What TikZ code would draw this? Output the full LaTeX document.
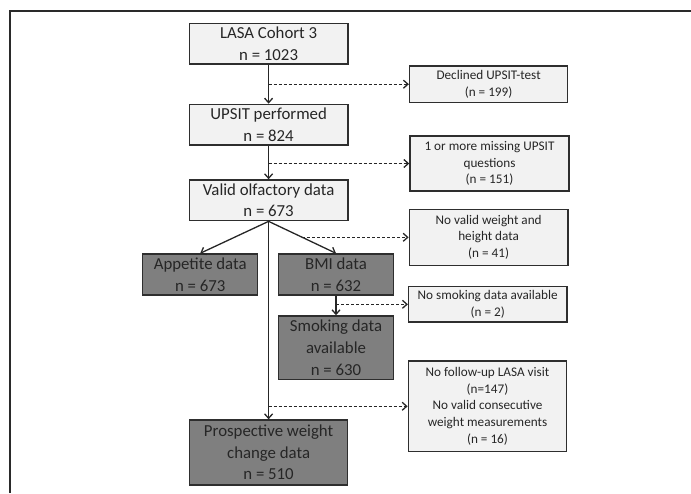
\documentclass[tikz,border=0pt]{standalone}
\usepackage{fontspec}
\setmainfont{Carlito}
\usetikzlibrary{arrows.meta,calc}
\definecolor{boxline}{HTML}{2E2E2E}
\definecolor{lineclr}{HTML}{262626}
\definecolor{frameclr}{HTML}{2A2A2A}
\definecolor{lightfill}{HTML}{F2F2F2}
\definecolor{darkfill}{HTML}{7F7F7F}
\definecolor{textdark}{HTML}{262626}
\begin{document}
\begin{tikzpicture}[x=1pt,y=-1pt,
  box/.style={draw=boxline,line width=1.4pt,inner sep=0pt,align=center,anchor=center},
  mainbox/.style={box,fill=lightfill,text=textdark,font=\fontsize{16.8}{21.6}\selectfont},
  sidebox/.style={box,fill=lightfill,text=textdark,font=\fontsize{13.2}{16.6}\selectfont},
  darkbox/.style={box,fill=darkfill,text=textdark,font=\fontsize{16.8}{21.6}\selectfont},
  flow/.style={draw=lineclr,line width=1.3pt,-{Straight Barb[length=4.5pt,width=8pt]}},
  excl/.style={flow,dash pattern=on 3pt off 2pt}]
\useasboundingbox (0,0) rectangle (691,493);
\draw[frameclr,line width=1.1pt] (10,493) -- (10,11) -- (691,11);

% main column
\node[mainbox,minimum width=158.7pt,minimum height=40.7pt] (lasa) at (268.6,43.7) {LASA Cohort 3\\n = 1023};
\node[mainbox,minimum width=158.7pt,minimum height=40.7pt] (upsit) at (268.6,124.7) {UPSIT performed\\n = 824};
\node[mainbox,minimum width=158.7pt,minimum height=40.7pt] (valid) at (268.6,200.3) {Valid olfactory data\\n = 673};
\node[darkbox,minimum width=115pt,minimum height=41pt] (appetite) at (200.2,274.5) {Appetite data\\n = 673};
\node[darkbox,minimum width=114.7pt,minimum height=41pt] (bmi) at (336,274.5) {BMI data\\n = 632};
\node[darkbox,minimum width=114.7pt,minimum height=63.7pt] (smoking) at (336,347.8) {Smoking data\\available\\n = 630};
\node[darkbox,minimum width=158.3pt,minimum height=65pt] (prosp) at (268.6,452.5) {Prospective weight\\change data\\n = 510};

% side boxes
\node[sidebox,minimum width=158pt,minimum height=36.3pt] (declined) at (488.6,84.2) {Declined UPSIT-test\\(n = 199)};
\node[sidebox,minimum width=159pt,minimum height=55pt] (missing) at (489.5,163.5) {1 or more missing UPSIT\\questions\\(n = 151)};
\node[sidebox,minimum width=158.5pt,minimum height=56pt] (noweight) at (488.6,237.3) {No valid weight and\\height data\\(n = 41)};
\node[sidebox,minimum width=158.2pt,minimum height=35.3pt] (nosmoke) at (487.7,304.3) {No smoking data available\\(n = 2)};
\node[sidebox,minimum width=158.3pt,minimum height=90.7pt] (nofollow) at (487.5,406.3) {No follow-up LASA visit\\(n=147)\\No valid consecutive\\weight measurements\\(n = 16)};

% solid flow
\draw[flow] (lasa) -- (upsit);
\draw[flow] (upsit) -- (valid);
\draw[flow] (valid.south) -- (appetite.north);
\draw[flow] (valid.south) -- (bmi.north);
\draw[flow] (valid.south) -- (prosp.north);
\draw[flow] (bmi) -- (smoking);

% exclusions
\draw[excl] (declined.west -| lasa.south) -- (declined.west);
\draw[excl] (missing.west -| upsit.south) -- (missing.west);
\coordinate (mid) at ($(valid.south)!0.5!(bmi.north)$);
\draw[excl] (mid) -- (mid -| noweight.west);
\draw[excl] (nosmoke.west -| bmi.south) -- (nosmoke.west);
\draw[excl] (nofollow.west -| valid.south) -- (nofollow.west);
\end{tikzpicture}
\end{document}
